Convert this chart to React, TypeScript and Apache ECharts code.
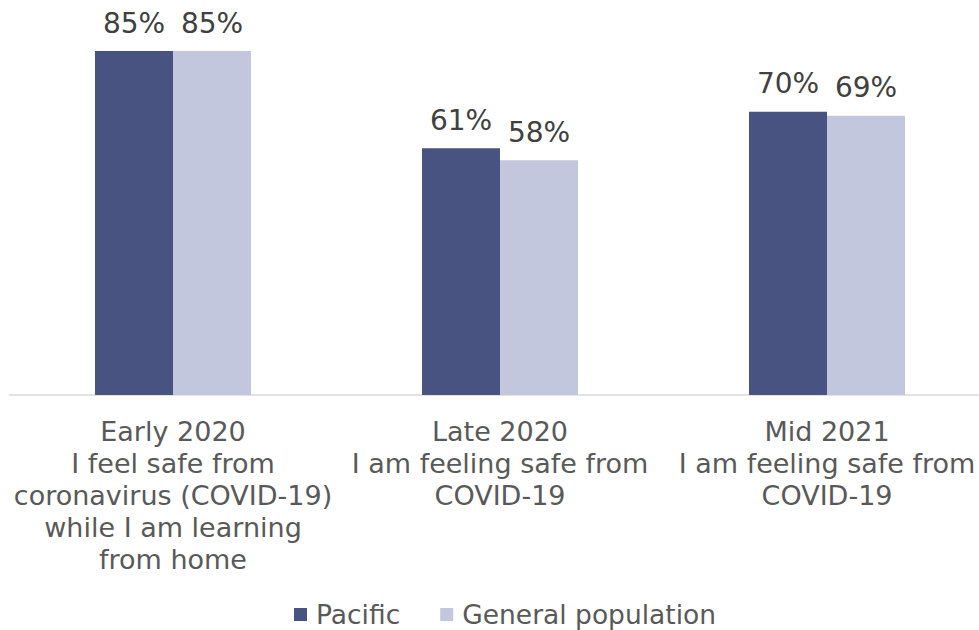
import React, { useEffect, useRef } from "react";
import * as echarts from "echarts";

const categories = [
  "Early 2020\nI feel safe from\ncoronavirus (COVID-19)\nwhile I am learning\nfrom home",
  "Late 2020\nI am feeling safe from\nCOVID-19",
  "Mid 2021\nI am feeling safe from\nCOVID-19",
];
const pacific = [85, 61, 70];
const general = [85, 58, 69];
const seriesNames = ["Pacific", "General population"];

const FONT = "DejaVu Sans, Verdana, sans-serif";

export default function App() {
  const ref = useRef<HTMLDivElement>(null);
  useEffect(() => {
    if (!ref.current) return;
    const chart = echarts.init(ref.current, undefined, { renderer: "svg" });
    chart.setOption({
      animation: false,
      grid: {
        left: 9.5,
        width: 981,
        top: 51,
        bottom: 235,
        containLabel: false,
        outerBoundsMode: "none",
      },
      legend: {
        bottom: -3,
        left: 289,
        itemWidth: 13,
        itemHeight: 13,
        itemGap: 40,
        icon: "rect",
        textStyle: { fontFamily: FONT, fontSize: 26.5, color: "#595959", padding: [0, 0, 0, 4] },
        data: seriesNames,
      },
      xAxis: {
        type: "category",
        data: categories,
        axisLine: { lineStyle: { color: "#D9D9D9", width: 1.5 } },
        axisTick: { show: false },
        axisLabel: {
          interval: 0,
          margin: 20,
          fontFamily: FONT,
          fontSize: 27,
          lineHeight: 32,
          color: "#595959",
        },
      },
      yAxis: {
        type: "value",
        min: 0,
        max: 85,
        show: false,
        splitLine: { show: false },
      },
      series: [
        {
          name: seriesNames[0],
          type: "bar",
          data: pacific,
          barWidth: 78,
          barGap: "0%",
          itemStyle: { color: "#485381" },
          label: {
            show: true,
            position: "top",
            distance: 14,
            formatter: "{c}%",
            fontFamily: FONT,
            fontSize: 28,
            color: "#404040",
          },
        },
        {
          name: seriesNames[1],
          type: "bar",
          data: general,
          barWidth: 78,
          barGap: "0%",
          itemStyle: { color: "#C2C7DE" },
          label: {
            show: true,
            position: "top",
            distance: 14,
            formatter: "{c}%",
            fontFamily: FONT,
            fontSize: 28,
            color: "#404040",
          },
        },
      ],
    });
    return () => chart.dispose();
  }, []);
  return <div ref={ref} style={{ width: 979, height: 630, position: "absolute", left: 0, top: 0, background: "#fff" }} />;
}
